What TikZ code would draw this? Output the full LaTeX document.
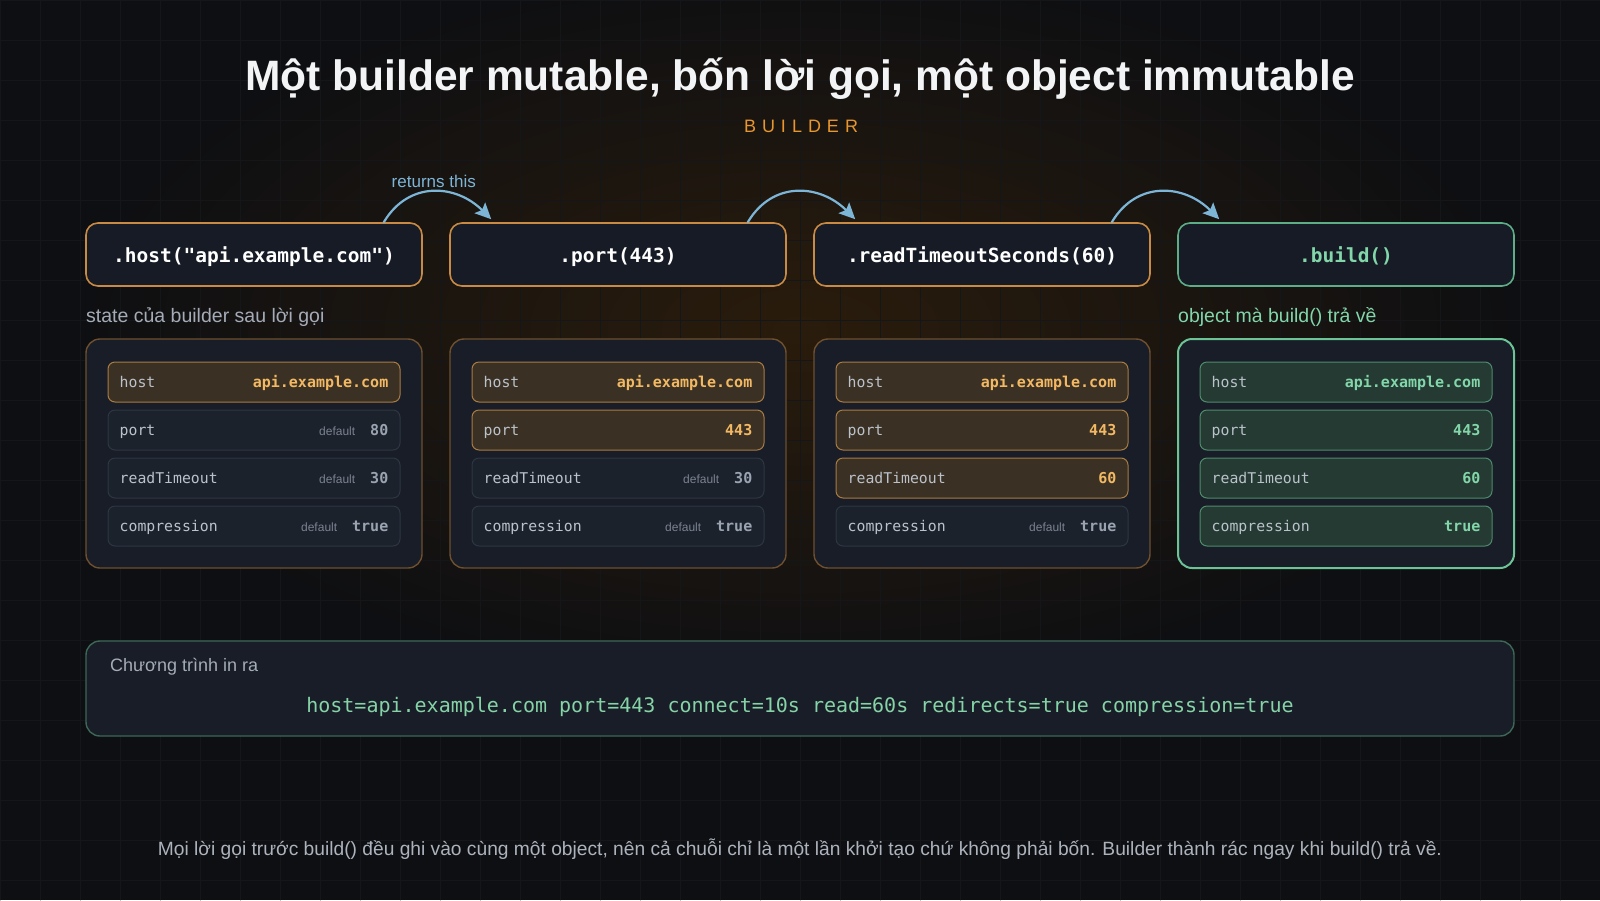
\documentclass[tikz,border=0pt]{standalone}
\usepackage{fontspec}
\setmainfont{Liberation Sans}
\setmonofont{DejaVu Sans Mono}
\usetikzlibrary{arrows.meta,positioning}

\definecolor{bgcol}{HTML}{0E0F12}
\definecolor{glowcol}{HTML}{2A1C0C}
\definecolor{gridcol}{HTML}{141619}
\definecolor{panelfill}{HTML}{181D27}
\definecolor{callfill}{HTML}{161B25}
\definecolor{callorange}{HTML}{C98A43}
\definecolor{paneledge}{HTML}{6E4F2E}
\definecolor{rowfill}{HTML}{1C222C}
\definecolor{rowline}{HTML}{2E3643}
\definecolor{hifill}{HTML}{3A3124}
\definecolor{hiline}{HTML}{A97C43}
\definecolor{hitext}{HTML}{F2B863}
\definecolor{keycol}{HTML}{BCC2CB}
\definecolor{dimtext}{HTML}{7B8392}
\definecolor{dimval}{HTML}{9AA3B1}
\definecolor{grline}{HTML}{5DAE86}
\definecolor{grtext}{HTML}{82D6A9}
\definecolor{grpanel}{HTML}{6CC396}
\definecolor{grfill}{HTML}{243A32}
\definecolor{grrow}{HTML}{4E8C6D}
\definecolor{outline}{HTML}{3D6856}
\definecolor{outtext}{HTML}{86D3A7}
\definecolor{arrowcol}{HTML}{7DB5D7}
\definecolor{labelgray}{HTML}{A5ACB7}
\definecolor{footgray}{HTML}{ADB3BD}
\definecolor{titlecol}{HTML}{F3F4F6}
\definecolor{tagorange}{HTML}{E8962E}

\newcommand{\px}[1]{\fontsize{#1pt}{#1pt}\selectfont}
\newcommand{\hv}[1]{{\ttfamily\bfseries\px{15}\color{hitext}#1}}
\newcommand{\gv}[1]{{\ttfamily\bfseries\px{15}\color{grtext}#1}}
\newcommand{\dflt}[1]{{\px{12}\color{dimtext}default}\hspace{15pt}{\ttfamily\bfseries\px{15}\color{dimval}#1}}
% one field of the state: name, style, x, y, key, value
\newcommand{\fieldrow}[6]{%
  \node[#2] (#1) at (#3,#4) {};
  \node[keytext, anchor=base west] (#1k) at ([xshift=12pt, yshift=-5pt]#1.west) {#5};
  \node[inner sep=0, anchor=base east] (#1v) at ([xshift=-12pt, yshift=-5pt]#1.east) {#6};
}

\begin{document}
\begin{tikzpicture}[
    x=1pt, y=-1pt,
    line cap=round,
    line join=round,
    callbox/.style={draw=callorange, fill=callfill, line width=1.6pt, rounded corners=12pt,
        minimum width=336pt, minimum height=63pt, text height=19pt, text depth=4pt,
        text=white, font=\ttfamily\bfseries\px{19.5}},
    panel/.style={draw=paneledge, fill=panelfill, line width=1.4pt, rounded corners=14pt,
        minimum width=336pt, minimum height=229pt},
    rowplain/.style={draw=rowline, fill=rowfill, line width=1pt, rounded corners=7pt,
        minimum width=292pt, minimum height=40pt, inner sep=0},
    rowhi/.style={rowplain, draw=hiline, fill=hifill},
    rowgreen/.style={rowplain, draw=grrow, fill=grfill},
    keytext/.style={inner sep=0, text=keycol, font=\ttfamily\px{14.8}},
    callarrow/.style={arrowcol, line width=2.2pt, -{Stealth[length=16pt, width=15pt, inset=3pt]}},
    caption/.style={inner sep=0, anchor=west, font=\px{19.5}}
]

% --- Definitions ---
\def\colA{254}  % column centres
\def\colB{618}
\def\colC{982}
\def\colD{1346}
\def\callY{254.5}
\def\panelY{453.5}

% --- Background ---
\useasboundingbox (0,0) rectangle (1600,900);
\fill[bgcol] (0,0) rectangle (1600,900);
\shade[inner color=glowcol, outer color=bgcol] (800,330) ellipse (720 and 360);
\draw[gridcol, line width=0.6pt] (0,0) grid[step=40pt] (1600,900);

% --- Title ---
\node[text=titlecol, font=\bfseries\px{42.5}] (title) at (800,79)
    {Một builder mutable, bốn lời gọi, một object immutable};
\node[text=tagorange, font=\px{18}] (tag) at (801,126)
    {B\kern6pt U\kern6pt I\kern6pt L\kern6pt D\kern6pt E\kern6pt R};

% --- Call chain ---
\node[callbox] (c1) at (\colA,\callY) {.host("api.example.com")};
\node[callbox] (c2) at (\colB,\callY) {.port(443)};
\node[callbox] (c3) at (\colC,\callY) {.readTimeoutSeconds(60)};
\node[callbox, draw=grline, text=grtext] (c4) at (\colD,\callY) {.build()};

% each call hands the same builder on
\draw[callarrow] ([xshift=-39pt]c1.north east)
    .. controls +(25,-42) and +(-35,-35) .. ([xshift=42pt, yshift=3pt]c2.north west)
    node[midway, above=0pt, text=arrowcol, font=\px{17}] (ret) {returns this};
\draw[callarrow] ([xshift=-39pt]c2.north east)
    .. controls +(25,-42) and +(-35,-35) .. ([xshift=42pt, yshift=3pt]c3.north west);
\draw[callarrow] ([xshift=-39pt]c3.north east)
    .. controls +(25,-42) and +(-35,-35) .. ([xshift=42pt, yshift=3pt]c4.north west);

% --- Captions ---
\node[caption, text=labelgray] (statecap) at (86,317) {state của builder sau lời gọi};
\node[caption, text=grtext] (objcap) at (1178,317) {object mà build() trả về};

% --- State panels ---
\node[panel] (p1) at (\colA,\panelY) {};
\node[panel] (p2) at (\colB,\panelY) {};
\node[panel] (p3) at (\colC,\panelY) {};
\node[panel, draw=grpanel, line width=2pt] (p4) at (\colD,\panelY) {};

% after .host(...)
\fieldrow{a1}{rowhi}{\colA}{382}{host}{\hv{api.example.com}}
\fieldrow{a2}{rowplain}{\colA}{430}{port}{\dflt{80}}
\fieldrow{a3}{rowplain}{\colA}{478}{readTimeout}{\dflt{30}}
\fieldrow{a4}{rowplain}{\colA}{526}{compression}{\dflt{true}}

% after .port(443)
\fieldrow{b1}{rowhi}{\colB}{382}{host}{\hv{api.example.com}}
\fieldrow{b2}{rowhi}{\colB}{430}{port}{\hv{443}}
\fieldrow{b3}{rowplain}{\colB}{478}{readTimeout}{\dflt{30}}
\fieldrow{b4}{rowplain}{\colB}{526}{compression}{\dflt{true}}

% after .readTimeoutSeconds(60)
\fieldrow{d1}{rowhi}{\colC}{382}{host}{\hv{api.example.com}}
\fieldrow{d2}{rowhi}{\colC}{430}{port}{\hv{443}}
\fieldrow{d3}{rowhi}{\colC}{478}{readTimeout}{\hv{60}}
\fieldrow{d4}{rowplain}{\colC}{526}{compression}{\dflt{true}}

% the built object
\fieldrow{e1}{rowgreen}{\colD}{382}{host}{\gv{api.example.com}}
\fieldrow{e2}{rowgreen}{\colD}{430}{port}{\gv{443}}
\fieldrow{e3}{rowgreen}{\colD}{478}{readTimeout}{\gv{60}}
\fieldrow{e4}{rowgreen}{\colD}{526}{compression}{\gv{true}}

% --- Program output ---
\node[draw=outline, fill=panelfill, line width=1.4pt, rounded corners=14pt,
    minimum width=1428pt, minimum height=95pt] (out) at (800,688.5) {};
\node[caption, text=labelgray, font=\px{18}] (outcap) at (110,667) {Chương trình in ra};
\node[text=outtext, font=\ttfamily\px{20}] (outline) at (800,707)
    {host=api.example.com port=443 connect=10s read=60s redirects=true compression=true};

% --- Footnote ---
\node[text=footgray, font=\px{19.2}] (foot) at (800,849)
    {Mọi lời gọi trước build() đều ghi vào cùng một object, nên cả chuỗi chỉ là một lần khởi tạo chứ không phải bốn. Builder thành rác ngay khi build() trả về.};

\end{tikzpicture}
\end{document}
